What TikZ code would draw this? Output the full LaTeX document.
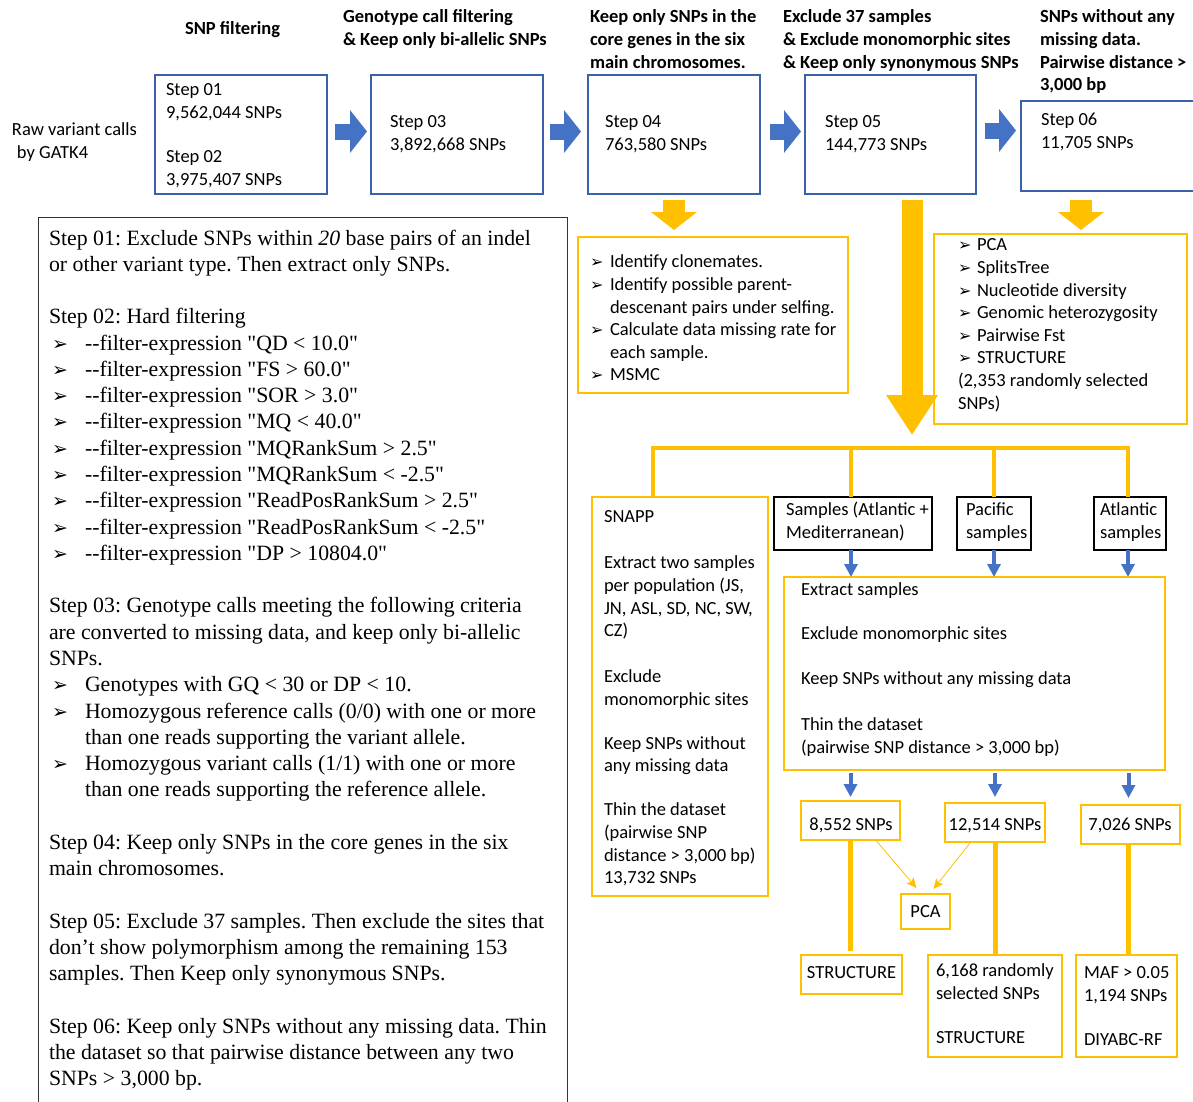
\documentclass[tikz,border=0pt]{standalone}
\usepackage{fontspec}
\newfontfamily\calfont{Carlito}
\newfontfamily\tnrfont{Liberation Serif}
\newfontfamily\dvfont{DejaVu Sans}
\usetikzlibrary{arrows.meta,fit}
\frenchspacing

\definecolor{yel}{HTML}{FFC000}
\definecolor{barrow}{HTML}{4472C4}
\definecolor{bframe}{HTML}{3A62A8}

% bullets: serif list (wide indent) and sans list (narrow indent)
\newcommand\lbul{\makebox[36pt][l]{\hspace{3pt}{\dvfont\fontsize{19}{19}\selectfont ➢}}}
\newcommand\sbul{\makebox[20pt][l]{{\dvfont\fontsize{16}{16}\selectfont ➢}}}
\newcommand\rbul{\makebox[19pt][l]{{\dvfont\fontsize{16}{16}\selectfont ➢}}}

\tikzset{
  sans/.style={anchor=north west, inner sep=0pt, outer sep=0pt, align=left,
    font=\calfont\fontsize{18.5}{22.6}\selectfont},
  sansc/.style={anchor=base, inner sep=0pt, outer sep=0pt,
    font=\calfont\fontsize{18.5}{22.6}\selectfont},
  head/.style={sans, font=\calfont\bfseries\fontsize{18.5}{22.6}\selectfont},
  serif/.style={anchor=north west, inner sep=0pt, outer sep=0pt, align=left,
    font=\tnrfont\fontsize{21.8}{26.28}\selectfont},
  stepframe/.style={draw=bframe, line width=1.5pt, inner sep=0pt, outer sep=0pt},
  yframe/.style={draw=yel, line width=2pt, inner sep=0pt, outer sep=0pt},
  kframe/.style={draw=black, line width=2pt, inner sep=0pt, outer sep=0pt},
  gframe/.style={draw=black!80, line width=1pt, inner sep=0pt, outer sep=0pt},
  rightblock/.style={line width=16pt, barrow, -{Triangle[length=17pt,width=42pt]}},
  downblock/.style={line width=22pt, yel, -{Triangle[length=18pt,width=45pt]}},
  bigdown/.style={line width=21pt, yel, -{Triangle[length=40pt,width=49pt]}},
  smalldown/.style={line width=4pt, barrow, -{Triangle[length=13pt,width=13pt]}},
  thinarrow/.style={line width=0.8pt, yel, -{Stealth[length=10pt,width=9pt,inset=2pt]}},
  yrule/.style={line width=4pt, yel, line join=miter},
  ystem/.style={line width=5pt, yel},
}

\begin{document}
\begin{tikzpicture}[x=1pt,y=-1pt]
\fill[white] (0,0) rectangle (1193,1101);
\useasboundingbox (0,0) rectangle (1193,1101);

% ---------- pipeline headers ----------
\node[sans] (raw) at (12,120) {\strut Raw variant calls\\\hspace*{5pt}by GATK4};
\node[head] (h1) at (185,19) {\strut SNP filtering};
\node[head] (h2) at (343,7) {\strut Genotype call filtering\\\& Keep only bi-allelic SNPs};
\node[head] (h3) at (590,7) {\strut Keep only SNPs in the\\core genes in the six\\main chromosomes.};
\node[head] (h4) at (783,7) {\strut Exclude 37 samples\\\& Exclude monomorphic sites\\\& Keep only synonymous SNPs};
\node[head] (h5) at (1040,7) {\strut SNPs without any\\missing data.\\Pairwise distance >\\3,000 bp};

% ---------- step boxes ----------
\node[stepframe, fit={(155,75)(327,194)}] (s1) {};
\node[stepframe, fit={(371,75)(543,194)}] (s3) {};
\node[stepframe, fit={(588,75)(760,194)}] (s4) {};
\node[stepframe, fit={(805,75)(976,194)}] (s5) {};
\node[stepframe, fit={(1021,101)(1210,191)}] (s6) {};

\node[sans] (t1) at (166,80) {\strut Step 01\\9,562,044 SNPs\\[21.4pt]Step 02\\3,975,407 SNPs};
\node[sans] (t3) at (390,112) {\strut Step 03\\3,892,668 SNPs};
\node[sans] (t4) at (605,112) {\strut Step 04\\763,580 SNPs};
\node[sans] (t5) at (825,112) {\strut Step 05\\144,773 SNPs};
\node[sans] (t6) at (1041,110) {\strut Step 06\\11,705 SNPs};

\draw[rightblock] ([xshift=8pt,yshift=3pt]s1.east) -- ([xshift=-4pt,yshift=3pt]s3.west);
\draw[rightblock] ([xshift=7pt,yshift=3pt]s3.east) -- ([xshift=-7pt,yshift=3pt]s4.west);
\draw[rightblock] ([xshift=10pt,yshift=3pt]s4.east) -- ([xshift=-4pt,yshift=3pt]s5.west);
\draw[rightblock] ([xshift=9pt,yshift=4pt]s5.east) -- ([xshift=-5pt,yshift=4pt]s5.east -| s6.west);

% ---------- analyses on steps 04 and 06 ----------
\node[yframe, fit={(578,237)(848,393)}] (ya) {};
\node[sans] (yat) at (590,252) {\strut\sbul Identify clonemates.\\
  \sbul Identify possible parent-\\\hspace*{20pt}descenant pairs under selfing.\\
  \sbul Calculate data missing rate for\\\hspace*{20pt}each sample.\\
  \sbul MSMC};

\node[yframe, fit={(934,234)(1187,424)}] (yb) {};
\node[sans] (ybt) at (958,235) {\strut\rbul PCA\\\rbul SplitsTree\\\rbul Nucleotide diversity\\
  \rbul Genomic heterozygosity\\\rbul Pairwise Fst\\\rbul STRUCTURE\\
  (2,353 randomly selected\\SNPs)};

\coordinate (a6) at (1081,194);
\draw[downblock] ([yshift=-6pt]s4.south) -- ([yshift=7pt]s4.south |- ya.north);
\draw[downblock] ([yshift=-6pt]a6) -- ([yshift=4pt]a6 |- yb.north);

\coordinate (bigtip) at (912,435);
\draw[bigdown] ([yshift=-6pt]s5.south -| bigtip) -- (bigtip);

% ---------- branching of step 05 ----------
\node[yframe, fit={(592,497)(768,896)}] (snapp) {};
\node[sans] (snappt) at (604,507) {\strut SNAPP\\[23.4pt]Extract two samples\\per population (JS,\\
  JN, ASL, SD, NC, SW,\\CZ)\\[23.4pt]Exclude\\monomorphic sites\\[21.4pt]Keep SNPs without\\
  any missing data\\[21.4pt]Thin the dataset\\(pairwise SNP\\distance > 3,000 bp)\\13,732 SNPs};

\node[kframe, fit={(774,497)(932,550)}] (samp) {};
\node[kframe, fit={(957,497)(1031,550)}] (pac) {};
\node[kframe, fit={(1094,497)(1166,550)}] (atl) {};
\node[sans] (sampt) at (786,500) {\strut Samples (Atlantic +\\Mediterranean)};
\node[sans] (pact) at (966,500) {\strut Pacific\\samples};
\node[sans] (atlt) at (1100,500) {\strut Atlantic\\samples};

\coordinate (jn) at (653,448);
\draw[yrule] (jn |- snapp.north) -- (jn) -| ([xshift=-2pt]atl.north);
\draw[yrule] ([xshift=-2pt]samp.north) -- ([xshift=-2pt]samp.north |- jn);
\draw[yrule] (pac.north) -- (pac.north |- jn);

\node[yframe, fit={(784,577)(1165,770)}] (ybox) {};
\node[sans] (yboxt) at (801,580) {\strut Extract samples\\[21.4pt]Exclude monomorphic sites\\[22.4pt]
  Keep SNPs without any missing data\\[23.4pt]Thin the dataset\\(pairwise SNP distance > 3,000 bp)};

\draw[smalldown] ([xshift=-2pt]samp.south) -- ([xshift=-2pt]samp.south |- ybox.north);
\draw[smalldown] (pac.south) -- (pac.south |- ybox.north);
\draw[smalldown] ([xshift=-2pt]atl.south) -- ([xshift=-2pt]atl.south |- ybox.north);

% ---------- datasets and their analyses ----------
\node[yframe, fit={(801,801)(900,840)}] (n1) {};
\node[yframe, fit={(945,803)(1045,842)}] (n2) {};
\node[yframe, fit={(1081,805)(1180,844)}] (n3) {};
\node[sansc] (n1t) at (851,830) {8,552 SNPs};
\node[sansc] (n2t) at (995,830) {12,514 SNPs};
\node[sansc] (n3t) at (1130,830) {7,026 SNPs};

\draw[smalldown] ([yshift=-3pt]ybox.south -| n1.north) -- ([yshift=4pt]n1.north);
\draw[smalldown] ([yshift=-3pt]ybox.south -| n2.north) -- ([yshift=6pt]n2.north);
\draw[smalldown] ([yshift=-3pt,xshift=-2pt]ybox.south -| n3.north) -- ([yshift=7pt,xshift=-2pt]n3.north);

\node[yframe, fit={(901,894)(950,929)}] (pca) {};
\node[sansc] (pcat) at (925.5,917) {PCA};

\node[yframe, fit={(801,955)(902,994)}] (st1) {};
\node[sansc] (st1t) at (851.5,978) {STRUCTURE};
\node[yframe, fit={(928,955)(1062,1057)}] (st2) {};
\node[sans] (st2t) at (936,961) {\strut 6,168 randomly\\selected SNPs\\[21.4pt]STRUCTURE};
\node[yframe, fit={(1076,955)(1177,1057)}] (st3) {};
\node[sans] (st3t) at (1084,963) {\strut MAF > 0.05\\1,194 SNPs\\[21.4pt]DIYABC-RF};

\draw[ystem] (n1.south) -- ([yshift=4pt]n1.south |- st1.north);
\draw[ystem] (n2.south) -- ([yshift=1pt]n2.south |- st2.north);
\draw[ystem] ([xshift=-2pt]n3.south) -- ([xshift=-2pt]n3.south |- st3.north);

\draw[thinarrow] ([xshift=26pt,yshift=-1pt]n1.south) -- ([xshift=-9pt,yshift=6pt]pca.north);
\draw[thinarrow] ([xshift=-25pt,yshift=-1pt]n2.south) -- ([xshift=8pt,yshift=5pt]pca.north);

% ---------- description of the filtering steps ----------
\node[gframe, fit={(38,217)(567,1115)}] (desc) {};
\node[serif] (desct) at (49,226.6) {\strut Step 01: Exclude SNPs within \textit{20} base pairs of an indel\\
or other variant type. Then extract only SNPs.\\[26.28pt]
Step 02: Hard filtering\\
\lbul -{}-filter-expression "QD < 10.0"\\
\lbul -{}-filter-expression "FS > 60.0"\\
\lbul -{}-filter-expression "SOR > 3.0"\\
\lbul -{}-filter-expression "MQ < 40.0"\\
\lbul -{}-filter-expression "MQRankSum > 2.5"\\
\lbul -{}-filter-expression "MQRankSum < -2.5"\\
\lbul -{}-filter-expression "ReadPosRankSum > 2.5"\\
\lbul -{}-filter-expression "ReadPosRankSum < -2.5"\\
\lbul -{}-filter-expression "DP > 10804.0"\\[26.28pt]
Step 03: Genotype calls meeting the following criteria\\
are converted to missing data, and keep only bi-allelic\\
SNPs.\\
\lbul Genotypes with GQ < 30 or DP < 10.\\
\lbul Homozygous reference calls (0/0) with one or more\\
\hspace*{36pt}than one reads supporting the variant allele.\\
\lbul Homozygous variant calls (1/1) with one or more\\
\hspace*{36pt}than one reads supporting the reference allele.\\[26.28pt]
Step 04: Keep only SNPs in the core genes in the six\\
main chromosomes.\\[26.28pt]
Step 05: Exclude 37 samples. Then exclude the sites that\\
don’t show polymorphism among the remaining 153\\
samples. Then Keep only synonymous SNPs.\\[26.28pt]
Step 06: Keep only SNPs without any missing data. Thin\\
the dataset so that pairwise distance between any two\\
SNPs > 3,000 bp.};
\end{tikzpicture}
\end{document}
